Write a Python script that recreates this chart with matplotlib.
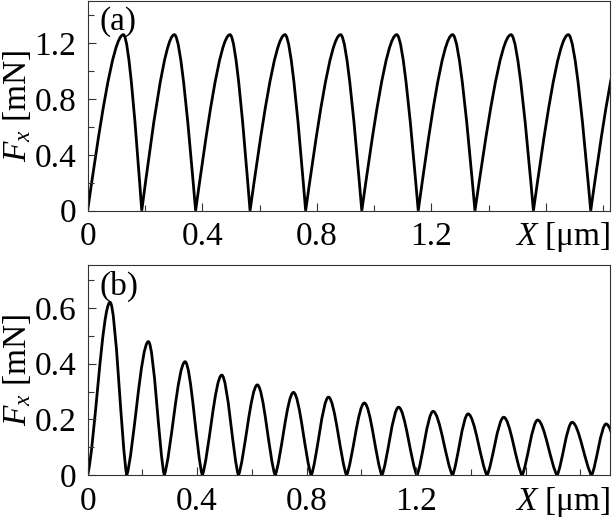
import matplotlib
matplotlib.use("Agg")
import matplotlib.pyplot as plt
from matplotlib.path import Path
from matplotlib.patches import PathPatch
from matplotlib.ticker import MultipleLocator

plt.rcParams['font.family'] = 'Liberation Serif'
plt.rcParams['mathtext.fontset'] = 'custom'
plt.rcParams['mathtext.rm'] = 'Liberation Serif'
plt.rcParams['mathtext.it'] = 'Liberation Serif:italic'
plt.rcParams['font.size'] = 24

# === DATA ===
# panel (a): zero crossings, peak positions and peak heights of each hump
a_zeros = [0.0, 0.189, 0.377, 0.567, 0.761, 0.957, 1.154, 1.352, 1.556, 1.756, 1.956]
a_peaks = [0.125, 0.303, 0.497, 0.689, 0.883, 1.079, 1.274, 1.478, 1.678, 1.878]
a_heights = [1.26, 1.26, 1.26, 1.26, 1.26, 1.26, 1.26, 1.26, 1.26, 1.26]

# panel (b)
b_zeros = [0.0, 0.143, 0.280, 0.419, 0.551, 0.685, 0.817, 0.946, 1.075, 1.203,
           1.333, 1.459, 1.587, 1.715, 1.841, 1.960]
b_peaks = [0.082, 0.222, 0.356, 0.490, 0.620, 0.752, 0.880, 1.011, 1.136, 1.262,
           1.390, 1.520, 1.644, 1.770, 1.894]
b_heights = [0.620, 0.479, 0.407, 0.359, 0.324, 0.297, 0.280, 0.259, 0.244, 0.229,
             0.220, 0.208, 0.198, 0.190, 0.184]

x_ticks = [0, 0.4, 0.8, 1.2, 1.6]
x_ticklabels = ['0', '0.4', '0.8', '1.2', '']
a_yticks = [0, 0.4, 0.8, 1.2]
a_yticklabels = ['0', '0.4', '0.8', '1.2']
b_yticks = [0, 0.2, 0.4, 0.6]
b_yticklabels = ['0', '0.2', '0.4', '0.6']


def hump_path(zeros, peaks, heights, c1, c2):
    # smooth humps: cubic bezier up to each peak and back down to the next zero
    verts = [(zeros[0], 0.0)]
    codes = [Path.MOVETO]
    for i, (xp, h) in enumerate(zip(peaks, heights)):
        x0, x1 = zeros[i], zeros[i + 1]
        w = xp - x0
        verts += [(x0 + c1[0] * w, c1[1] * h), (x0 + c2[0] * w, c2[1] * h), (xp, h)]
        w = x1 - xp
        verts += [(x1 - c2[0] * w, c2[1] * h), (x1 - c1[0] * w, c1[1] * h), (x1, 0.0)]
        codes += [Path.CURVE4] * 6
    return Path(verts, codes)


def style_axes(ax, xmax, ymax, yticks, yticklabels, yminor, tag):
    ax.set_xlim(0, xmax)
    ax.set_ylim(0, ymax)
    ax.set_xticks(x_ticks, labels=x_ticklabels)
    ax.set_yticks(yticks, labels=yticklabels)
    ax.xaxis.set_minor_locator(MultipleLocator(0.2))
    ax.yaxis.set_minor_locator(MultipleLocator(yminor))
    ax.tick_params(which='both', direction='in', top=False, right=False,
                   width=0.8, color='#333333')
    ax.tick_params(which='major', length=6)
    ax.tick_params(which='minor', length=4)
    ax.tick_params(axis='x', which='major', pad=8)
    ax.tick_params(axis='y', which='major', pad=8)
    for sp in ax.spines.values():
        sp.set_linewidth(0.8)
        sp.set_color('#333333')
    ax.set_ylabel(r'$F_x$ [mN]', labelpad=1)
    ax.annotate(r'$X$ [μm]', xy=(1, 0), xycoords='axes fraction',
                xytext=(0, -7), textcoords='offset points', ha='right', va='top')
    ax.text(0.022, 0.975, tag, transform=ax.transAxes, ha='left', va='top')


fig = plt.figure(figsize=(6.13, 5.2), dpi=100)
ax_a = fig.add_axes([0.1429, 0.5948, 0.853, 0.403])
ax_b = fig.add_axes([0.1429, 0.0860, 0.853, 0.404])

ax_a.add_patch(PathPatch(hump_path(a_zeros, a_peaks, a_heights, (0.3, 0.42), (0.7, 1.0)),
                         fill=False, ec='black', lw=2.0))
style_axes(ax_a, 1.825, 1.5, a_yticks, a_yticklabels, 0.2, '(a)')

ax_b.add_patch(PathPatch(hump_path(b_zeros, b_peaks, b_heights, (0.3, 0.15), (0.66, 1.0)),
                         fill=False, ec='black', lw=2.0))
style_axes(ax_b, 1.91, 0.753, b_yticks, b_yticklabels, 0.1, '(b)')

fig.savefig('out.png', dpi=100)
